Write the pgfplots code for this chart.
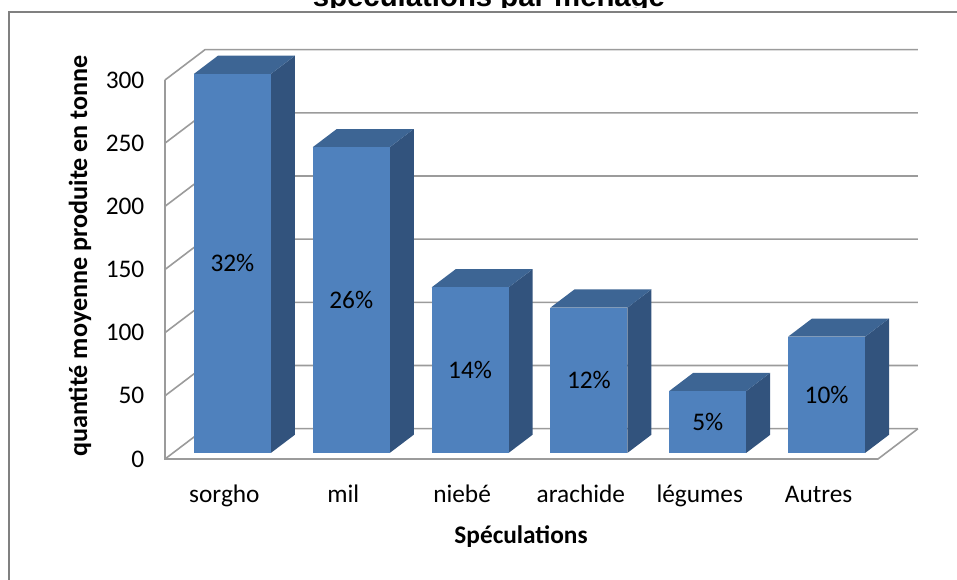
\documentclass[border=0pt]{standalone}
\usepackage{pgfplots}
\pgfplotsset{compat=1.18}
\usepackage{pgfplotstable}
\usetikzlibrary{calc}
\usepackage{fontspec}
\setmainfont{Carlito}
\newfontfamily\titlefont{Liberation Sans}

\definecolor{frontc}{RGB}{79,129,189}
\definecolor{topc}{RGB}{61,101,148}
\definecolor{sidec}{RGB}{50,83,125}
\definecolor{gridc}{RGB}{155,155,155}
\definecolor{framec}{RGB}{128,128,128}

\pgfplotstableread{
idx v pct
0 300 32
1 242 26
2 131 14
3 115 12
4 49 5
5 92 10
}\data

\begin{document}
\begin{tikzpicture}[x=0.75pt,y=0.75pt]
\begin{axis}[
  scale only axis, width=534.75pt, height=284.25pt,
  xmin=-0.5, xmax=5.5, ymin=0, ymax=300,
  clip=false,
  axis line style={draw=none},
  major tick length=0pt,
  ytick={0,50,...,300},
  xtick={0,...,5},
  xticklabels={sorgho,mil,niebé,arachide,légumes,Autres},
  tick label style={font=\fontsize{19}{23}\selectfont},
  /pgf/number format/assume math mode=true,
  yticklabel style={anchor=east, xshift=-12pt},
  xticklabel style={anchor=base, yshift=-33pt},
]
\coordinate (O) at (axis cs:-0.5,0);
% left wall + back wall gridlines
\draw[gridc, line width=1.2pt] (axis cs:-0.5,0) -- (axis cs:-0.1634,24) -- (axis cs:5.8366,24);
\draw[gridc, line width=1.2pt] (axis cs:-0.5,50) -- (axis cs:-0.1634,74) -- (axis cs:5.8366,74);
\draw[gridc, line width=1.2pt] (axis cs:-0.5,100) -- (axis cs:-0.1634,124) -- (axis cs:5.8366,124);
\draw[gridc, line width=1.2pt] (axis cs:-0.5,150) -- (axis cs:-0.1634,174) -- (axis cs:5.8366,174);
\draw[gridc, line width=1.2pt] (axis cs:-0.5,200) -- (axis cs:-0.1634,224) -- (axis cs:5.8366,224);
\draw[gridc, line width=1.2pt] (axis cs:-0.5,250) -- (axis cs:-0.1634,274) -- (axis cs:5.8366,274);
\draw[gridc, line width=1.2pt] (axis cs:-0.5,300) -- (axis cs:-0.1634,324) -- (axis cs:5.8366,324);
% front left edge and floor
\draw[gridc, line width=1.2pt] (axis cs:-0.5,300) -- (axis cs:-0.5,0) -- (axis cs:5.5,0) -- (axis cs:5.8366,24);

% 3D bars
\pgfplotsinvokeforeach{0,...,5}{
  \pgfplotstablegetelem{#1}{v}\of\data
  \pgfmathsetmacro\val{\pgfplotsretval}
  \pgfplotstablegetelem{#1}{pct}\of\data
  \let\pct\pgfplotsretval
  \pgfmathsetmacro\xla{#1-0.324+0.0673}
  \pgfmathsetmacro\xra{#1+0.324+0.0673}
  \pgfmathsetmacro\xlb{#1-0.324+0.2693}
  \pgfmathsetmacro\xrb{#1+0.324+0.2693}
  \pgfmathsetmacro\yba{4.8}
  \pgfmathsetmacro\ybb{19.2}
  \pgfmathsetmacro\yta{\val+4.8}
  \pgfmathsetmacro\ytb{\val+19.2}
  \pgfmathsetmacro\xc{#1+0.0673}
  \pgfmathsetmacro\ym{\val/2+4.8}
  \edef\doit{%
    \noexpand\addplot[fill=sidec, draw=none] coordinates {(\xra,\yba) (\xrb,\ybb) (\xrb,\ytb) (\xra,\yta)} -- cycle;
    \noexpand\addplot[fill=topc, draw=none] coordinates {(\xla,\yta) (\xra,\yta) (\xrb,\ytb) (\xlb,\ytb)} -- cycle;
    \noexpand\addplot[fill=frontc, draw=none] coordinates {(\xla,\yba) (\xra,\yba) (\xra,\yta) (\xla,\yta)} -- cycle;
    \noexpand\node[font=\noexpand\fontsize{19}{23}\noexpand\selectfont, inner sep=0pt] at (axis cs:\xc,\ym) {\pct\noexpand\%};
  }
  \doit
}
\end{axis}
\pgfresetboundingbox
\path[use as bounding box] ($(O)+(-165,-121)$) rectangle ($(O)+(792,459)$);
% frame
\draw[framec, line width=1.1pt] ($(O)+(-156,-140)$) -- ($(O)+(-156,447)$) -- ($(O)+(830,447)$);
% title (cut off at top)
\begin{scope}
\clip ($(O)+(-165,451.5)$) rectangle ($(O)+(792,500)$);
\node[anchor=base, inner sep=0pt] at ($(O)+(324,452)$) {\titlefont\bfseries\fontsize{22}{26}\selectfont spéculations par ménage};
\end{scope}
% axis labels
\node[rotate=90, anchor=center, inner sep=0pt] at ($(O)+(-85,203)$) {\bfseries\fontsize{19.6}{23}\selectfont quantité moyenne produite en tonne};
\node[anchor=base, inner sep=0pt] at ($(O)+(356,-85)$) {\bfseries\fontsize{19}{23}\selectfont Spéculations};
\end{tikzpicture}
\end{document}
